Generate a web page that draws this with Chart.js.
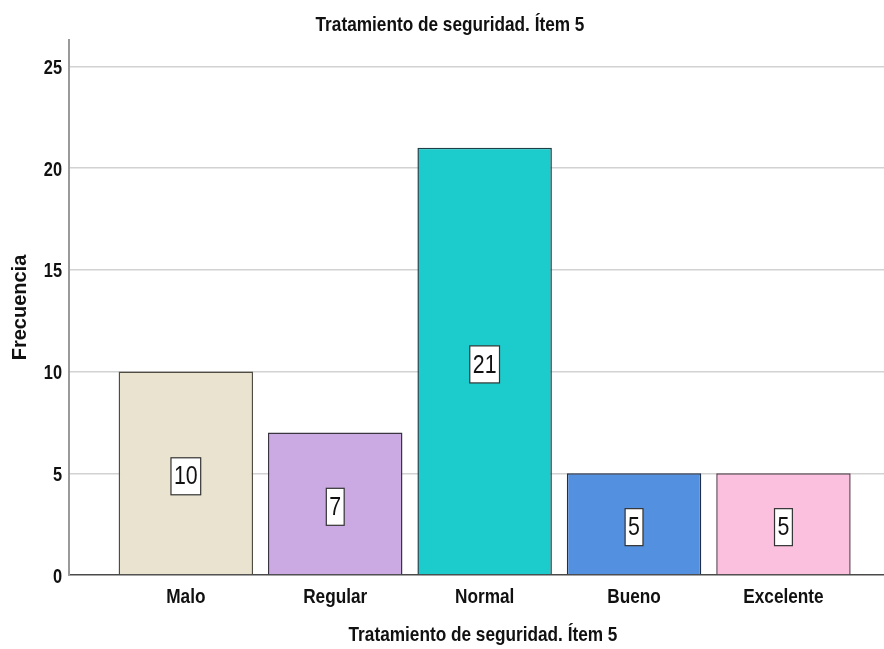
<!DOCTYPE html>
<html>
<head>
<meta charset="utf-8">
<script src="https://cdn.jsdelivr.net/npm/chart.js@4/dist/chart.umd.min.js"></script>
<style>
  html, body { margin: 0; padding: 0; background: #fff; }
  #wrap { width: 884px; height: 649px; }
</style>
</head>
<body>
<div id="wrap"><canvas id="grafico"></canvas></div>
<script>
// Frecuencias por categoría
const categorias = ["Malo", "Regular", "Normal", "Bueno", "Excelente"];
const frecuencias = [10, 7, 21, 5, 5];
const marcasY = [0, 5, 10, 15, 20, 25];
const titulo = "Tratamiento de seguridad. Ítem 5";
const tituloX = "Tratamiento de seguridad. Ítem 5";
const tituloY = "Frecuencia";
const colores = ["#e9e3d0", "#cba9e2", "#1ccbcb", "#5490e0", "#fac0de"];
const bordes = ["#4f4c44", "#3a3440", "#1f3f48", "#1f2f48", "#5a4450"];

const fuente = "'Liberation Sans', Arial, sans-serif";
const estrecho = 0.82; // compresión horizontal del texto

// Texto con compresión horizontal
function textoEstrecho(ctx, texto, x, y, font, align) {
  ctx.save();
  ctx.font = font;
  ctx.textAlign = align;
  ctx.textBaseline = "middle";
  ctx.translate(x, y);
  ctx.scale(estrecho, 1);
  ctx.fillText(texto, 0, 0);
  ctx.restore();
}

// Títulos y etiquetas de ejes
const textos = {
  id: "textos",
  afterDraw(chart) {
    const ctx = chart.ctx;
    const xs = chart.scales.x;
    const ys = chart.scales.y;
    ctx.save();
    ctx.fillStyle = "#111";
    const negrita = "bold 21px " + fuente;
    textoEstrecho(ctx, titulo, 450, 25, negrita, "center");
    categorias.forEach((c, i) => {
      textoEstrecho(ctx, c, xs.getPixelForValue(i + 1), 597, negrita, "center");
    });
    textoEstrecho(ctx, tituloX, 483, 635, negrita, "center");
    marcasY.forEach(v => {
      textoEstrecho(ctx, String(v), 62, ys.getPixelForValue(v) + 2, "bold 20px " + fuente, "right");
    });
    ctx.translate(20, (chart.chartArea.top + chart.chartArea.bottom) / 2);
    ctx.rotate(-Math.PI / 2);
    ctx.font = "bold 20px " + fuente;
    ctx.textAlign = "center";
    ctx.textBaseline = "middle";
    ctx.fillText(tituloY, 0, 0);
    ctx.restore();
  }
};

// Etiquetas de valor dentro de cada barra (caja blanca con borde)
const etiquetasValor = {
  id: "etiquetasValor",
  afterDatasetsDraw(chart) {
    const ctx = chart.ctx;
    const yScale = chart.scales.y;
    const meta = chart.getDatasetMeta(0);
    ctx.save();
    ctx.font = "26px " + fuente;
    meta.data.forEach((bar, i) => {
      const v = frecuencias[i];
      const texto = String(v);
      const x = bar.x;
      const y = yScale.getPixelForValue(v / 2) + 3;
      const w = ctx.measureText(texto).width * estrecho + 6;
      const h = 37;
      ctx.fillStyle = "#ffffff";
      ctx.fillRect(x - w / 2, y - h / 2, w, h);
      ctx.strokeStyle = "#333333";
      ctx.lineWidth = 1.2;
      ctx.strokeRect(x - w / 2, y - h / 2, w, h);
      ctx.fillStyle = "#111111";
      textoEstrecho(ctx, texto, x, y + 1, "26px " + fuente, "center");
    });
    ctx.restore();
  }
};

new Chart(document.getElementById("grafico"), {
  type: "bar",
  data: {
    datasets: [{
      label: tituloY,
      data: frecuencias.map((v, i) => ({ x: i + 1, y: v })),
      backgroundColor: colores,
      borderColor: bordes,
      borderWidth: 1.5,
      barPercentage: 0.9,
      categoryPercentage: 1.0
    }]
  },
  options: {
    responsive: true,
    maintainAspectRatio: false,
    animation: false,
    layout: { padding: { top: 40, left: 0, right: 0, bottom: 0 } },
    plugins: {
      legend: { display: false },
      tooltip: { enabled: false },
      title: { display: false }
    },
    scales: {
      x: {
        type: "linear",
        offset: false,
        min: 0.218,
        max: 5.673,
        afterBuildTicks: (scale) => {
          scale.ticks = categorias.map((c, i) => ({ value: i + 1 }));
        },
        afterFit: (scale) => { scale.height = 74; },
        ticks: { display: false },
        grid: { display: false, drawTicks: false },
        border: { display: true, color: "#4a4a4a", width: 1.5 }
      },
      y: {
        min: 0,
        max: 26.3,
        afterBuildTicks: (scale) => {
          scale.ticks = marcasY.map(v => ({ value: v }));
        },
        afterFit: (scale) => { scale.width = 69; },
        ticks: { display: false },
        grid: {
          drawTicks: false,
          lineWidth: 1.5,
          color: (c) => (c.tick && c.tick.value === 0) ? "rgba(0,0,0,0)" : "#d2d2d2"
        },
        border: { display: true, color: "#9a9a9a", width: 2 }
      }
    }
  },
  plugins: [etiquetasValor, textos]
});
</script>
</body>
</html>
